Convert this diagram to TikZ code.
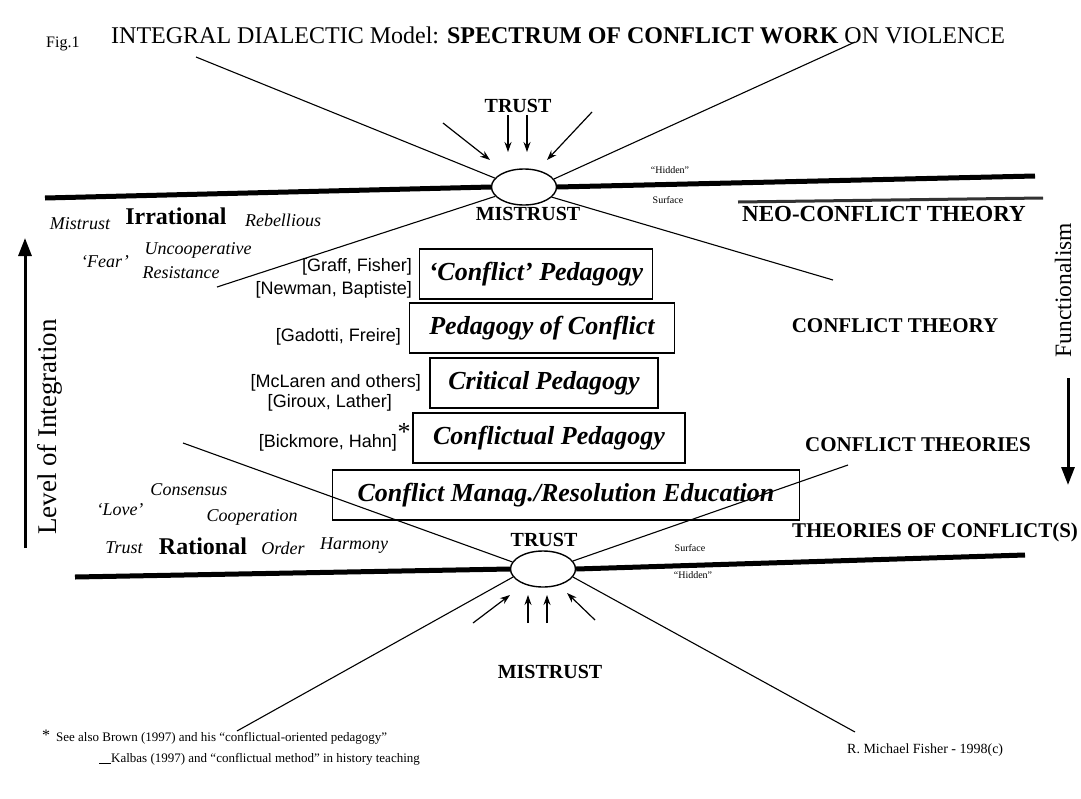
\documentclass[tikz,border=0pt]{standalone}
\usepackage{fontspec}
\setmainfont{Liberation Serif}
\setsansfont{Liberation Sans}
\usetikzlibrary{arrows.meta,shapes.geometric}

\begin{document}
\begin{tikzpicture}[x=1pt,y=-1pt,
        every node/.style={inner sep=1pt},
        heading/.style={font=\fontsize{24}{26}\selectfont},
        level/.style={font=\fontsize{20}{22}\selectfont\bfseries},
        theory/.style={font=\fontsize{21}{24}\selectfont\bfseries},
        pole/.style={font=\fontsize{24}{26}\selectfont\bfseries},
        mood/.style={font=\fontsize{18}{20}\selectfont\itshape},
        tiny/.style={font=\fontsize{10}{11}\selectfont},
        cite/.style={anchor=east, font=\fontsize{18}{20}\selectfont\sffamily},
        note/.style={anchor=west, font=\fontsize{13}{15}\selectfont},
        pedbox/.style={
          draw,
          line width=1.2pt,
          inner sep=0pt,
          minimum height=50pt,
          font=\fontsize{26}{28}\selectfont\bfseries\itshape
        },
        gap/.style={ellipse, draw, line width=1.4pt, minimum width=65pt, minimum height=36pt, inner sep=0pt},
        ground/.style={line width=5pt},
        ray/.style={line width=1.1pt},
        arrow/.style={-{Stealth[length=10pt,width=7pt]}, line width=1.2pt},
        axis/.style={-{Triangle[length=18pt,width=13pt]}, line width=3pt}
      ]
        \useasboundingbox (0,0) rectangle (1081,798);

        % title
        \node[anchor=base west, font=\fontsize{16}{18}\selectfont] (fig) at (45,47) {Fig.1};
        \node[anchor=base west, heading] (title) at (110,43)
          {INTEGRAL DIALECTIC Model: \textbf{SPECTRUM OF CONFLICT WORK} ON VIOLENCE};

        % upper surface
        \node[gap] (topgap) at (524,187) {};
        \coordinate (hl1) at (45,198);
        \coordinate (hr1) at (1035,176);
        \draw[ground] (hl1) -- (topgap.west);
        \draw[ground] (topgap.east) -- (hr1);

        \coordinate (ul) at (196,57);
        \coordinate (ur) at (855,42);
        \coordinate (ll) at (217,287);
        \coordinate (lr) at (833,280);
        \draw[ray] (ul) -- (topgap.163);
        \draw[ray] (ur) -- (topgap.15);
        \draw[ray] (ll) -- (topgap.198);
        \draw[ray] (lr) -- (topgap.340);

        \node[level] (trustT) at (518,106) {TRUST};
        \node[level] (mistrustT) at (528,214) {MISTRUST};
        \coordinate (ta1) at (443,123); \coordinate (te1) at (490,160);
        \coordinate (ta2) at (508,115); \coordinate (te2) at (508,152);
        \coordinate (ta3) at (527,115); \coordinate (te3) at (527,152);
        \coordinate (ta4) at (592,112); \coordinate (te4) at (547,160);
        \draw[arrow] (ta1) -- (te1);
        \draw[arrow] (ta2) -- (te2);
        \draw[arrow] (ta3) -- (te3);
        \draw[arrow] (ta4) -- (te4);

        \node[tiny] (hiddenT) at (670,170) {``Hidden''};
        \node[tiny] (surfaceT) at (668,200) {Surface};
        \coordinate (sa) at (738,202);
        \coordinate (sb) at (1043,198);
        \draw[line width=3pt, black!80] (sa) -- (sb);
        \node[theory, font=\fontsize{23}{25}\selectfont\bfseries] (neo) at (884,214) {NEO-CONFLICT THEORY};

        % irrational side
        \node[mood] (mistrustL) at (80,224) {Mistrust};
        \node[pole] (irrational) at (176,216) {Irrational};
        \node[mood] (rebellious) at (283,220) {Rebellious};
        \node[mood] (fear) at (105,262) {`Fear'};
        \node[mood] (uncoop) at (198,250) {Uncooperative};
        \node[mood] (resist) at (181,273) {Resistance};

        % lower surface
        \node[gap] (botgap) at (543,569) {};
        \coordinate (hl2) at (75,577);
        \coordinate (hr2) at (1025,555);
        \draw[ground] (hl2) -- (botgap.west);
        \draw[ground] (botgap.east) -- (hr2);

        \coordinate (bul) at (183,443);
        \coordinate (bur) at (848,465);
        \coordinate (bll) at (237,731);
        \coordinate (blr) at (855,732);
        \draw[ray] (bul) -- (botgap.167);
        \draw[ray] (bur) -- (botgap.15);
        \draw[ray] (bll) -- (botgap.195);
        \draw[ray] (blr) -- (botgap.345);

        \node[level] (trustB) at (544,540) {TRUST};
        \node[level] (mistrustB) at (550,672) {MISTRUST};
        \coordinate (ba1) at (473,623); \coordinate (be1) at (510,595);
        \coordinate (ba2) at (528,623); \coordinate (be2) at (528,595);
        \coordinate (ba3) at (547,623); \coordinate (be3) at (547,595);
        \coordinate (ba4) at (595,620); \coordinate (be4) at (567,593);
        \draw[arrow] (ba1) -- (be1);
        \draw[arrow] (ba2) -- (be2);
        \draw[arrow] (ba3) -- (be3);
        \draw[arrow] (ba4) -- (be4);

        \node[tiny] (surfaceB) at (690,548) {Surface};
        \node[tiny] (hiddenB) at (693,575) {``Hidden''};

        % rational side
        \node[mood] (consensus) at (189,490) {Consensus};
        \node[mood] (love) at (120,510) {`Love'};
        \node[mood] (coop) at (252,517) {Cooperation};
        \node[mood] (trustL) at (124,548) {Trust};
        \node[pole] (rational) at (203,546) {Rational};
        \node[mood] (order) at (283,548) {Order};
        \node[mood] (harmony) at (354,546) {Harmony};

        % pedagogies
        \node[pedbox, minimum width=233pt] (ped1) at (536,274) {`Conflict' Pedagogy};
        \node[pedbox, minimum width=265pt] (ped2) at (542,328) {Pedagogy of Conflict};
        \node[pedbox, minimum width=228pt] (ped3) at (544,383) {Critical Pedagogy};
        \node[pedbox, minimum width=272pt] (ped4) at (549,438) {Conflictual Pedagogy};
        \node[pedbox, minimum width=467pt] (ped5) at (566,495) {Conflict Manag./Resolution Education};

        \node[cite] (graff) at (413,267) {[Graff, Fisher]};
        \node[cite] (newman) at (413,290) {[Newman, Baptiste]};
        \node[cite] (gadotti) at (402,337) {[Gadotti, Freire]};
        \node[cite] (mclaren) at (422,383) {[McLaren and others]};
        \node[cite] (giroux) at (393,403) {[Giroux, Lather]};
        \node[cite] (bickmore) at (398,443) {[Bickmore, Hahn]};
        \node[font=\fontsize{26}{26}\selectfont] (star) at (404,432) {*};

        % theories
        \node[theory] (conftheory) at (895,326) {CONFLICT THEORY};
        \node[theory] (conftheories) at (918,445) {CONFLICT THEORIES};
        \node[theory] (theoriesof) at (935,532) {THEORIES OF CONFLICT(S)};

        % axes
        \coordinate (lv1) at (25,548);
        \coordinate (lv2) at (25,238);
        \draw[axis] (lv1) -- (lv2);
        \node[rotate=90, font=\fontsize{27}{29}\selectfont] (integration) at (50,427) {Level of Integration};
        \coordinate (fn1) at (1068,378);
        \coordinate (fn2) at (1068,485);
        \draw[axis] (fn1) -- (fn2);
        \node[rotate=90, font=\fontsize{23.5}{25}\selectfont] (functionalism) at (1063,290) {Functionalism};

        % footnote
        \node[font=\fontsize{16}{16}\selectfont] (fnstar) at (46,735) {*};
        \node[note] (fn1txt) at (55,738) {See also Brown (1997) and his ``conflictual-oriented pedagogy''};
        \node[note] (fn2txt) at (98,759) {\underline{\hspace{12pt}}Kalbas (1997) and ``conflictual method'' in history teaching};
        \node[note, font=\fontsize{14}{16}\selectfont] (author) at (846,750) {R. Michael Fisher - 1998(c)};
      \end{tikzpicture}
\end{document}
